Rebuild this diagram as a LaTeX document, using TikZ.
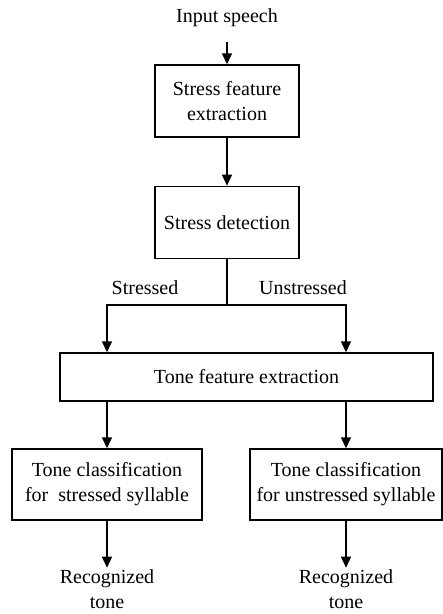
\documentclass[tikz,border=0pt]{standalone}
\usepackage{fontspec}
\setmainfont{Liberation Serif}
\usetikzlibrary{positioning,arrows.meta}

\begin{document}
\begin{tikzpicture}[
  x=1pt,y=1pt,
  font=\fontsize{20}{25}\selectfont,
  every node/.style={align=center},
  block/.style={rectangle,draw,line width=1.4pt,inner sep=3pt},
  txt/.style={inner sep=2pt},
  link/.style={line width=1.4pt,-{Triangle[length=11pt,width=10pt]}},
  wire/.style={line width=1.4pt}
]
\useasboundingbox (0,0) rectangle (443,-614);

\node[txt] (in) at (227,-18) {Input speech};
\node[block,minimum width=144pt,minimum height=72pt] (fx) at (227,-101) {Stress feature\\extraction};
\node[block,minimum width=144pt,minimum height=72pt,below=48pt of fx] (det) {Stress detection};

\coordinate (jn) at (227,-305);
\node[txt] (ls) at (145,-288) {Stressed};
\node[txt] (lu) at (303,-288) {Unstressed};

\node[block,minimum width=373pt,minimum height=48pt] (tfe) at (246.5,-377) {Tone feature extraction};

\node[block,minimum width=190pt,minimum height=71pt] (cls1) at (107,-484.5) {Tone classification\\for \ stressed syllable};
\node[block,minimum width=192pt,minimum height=71pt] (cls2) at (346,-484.5) {Tone classification\\for unstressed syllable};

\node[txt,below=47pt of cls1] (out1) {Recognized\\tone};
\node[txt,below=47pt of cls2] (out2) {Recognized\\tone};

\draw[link,shorten <=13pt] (in) -- (fx);
\draw[link] (fx) -- (det);
\draw[wire] (det) -- (jn);
\draw[link] (jn) -| (cls1 |- tfe.north);
\draw[link] (jn) -| (cls2 |- tfe.north);
\draw[link] (cls1 |- tfe.south) -- (cls1);
\draw[link] (cls2 |- tfe.south) -- (cls2);
\draw[link] (cls1) -- (out1);
\draw[link] (cls2) -- (out2);
\end{tikzpicture}
\end{document}
